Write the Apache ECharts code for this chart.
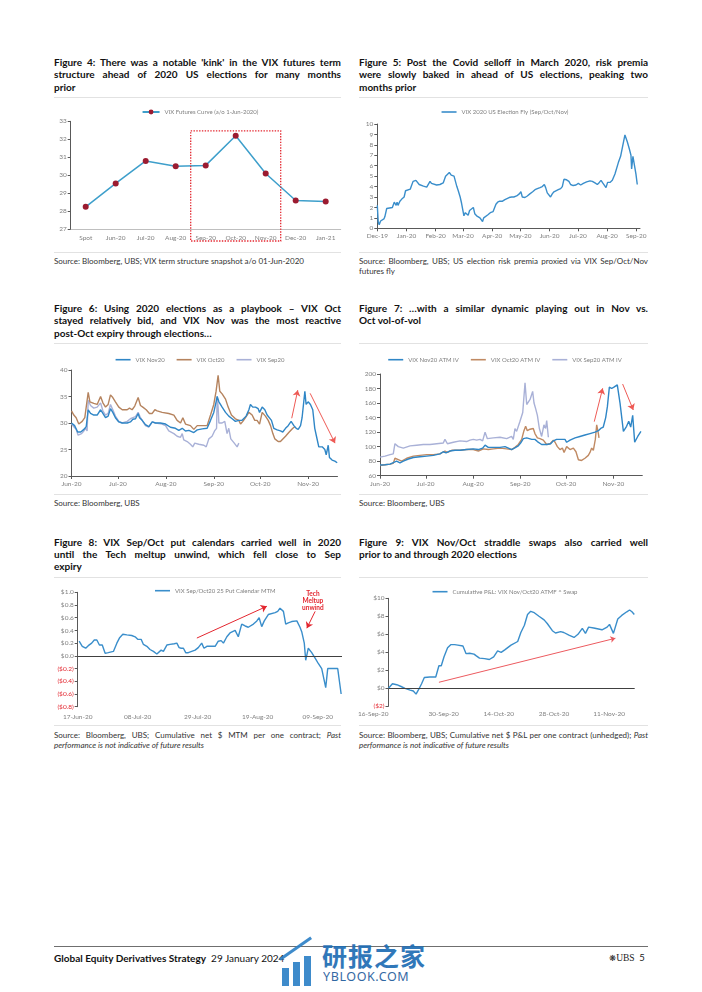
<!DOCTYPE html>
<html><head><meta charset="utf-8">
<script src="https://cdn.jsdelivr.net/npm/echarts@6/dist/echarts.min.js"></script>
<style>
html,body{margin:0;padding:0;background:#fff}
body{width:702px;height:992px;position:relative;overflow:hidden;font-family:Lato,'Noto Sans',sans-serif;color:#111}
.t{position:absolute;font-weight:700;font-size:10px;line-height:12.4px;color:#111}
.ln{white-space:nowrap;text-align:justify;text-align-last:justify}
.ln.l{text-align-last:left}
.sep{position:absolute;height:1px;background:#e2e2e2}
.src{position:absolute;font-size:8px;line-height:10px;color:#333}
.c{position:absolute}
</style></head><body>

<!-- Titles -->
<div class="t" style="left:54px;top:55.8px;width:287px">
<div class="ln"><span>Figure 4: There was a notable 'kink' in the VIX futures term</span></div>
<div class="ln"><span>structure ahead of 2020 US elections for many months</span></div>
<div class="ln l"><span>prior</span></div></div>
<div class="t" style="left:359px;top:55.8px;width:289px">
<div class="ln"><span>Figure 5: Post the Covid selloff in March 2020, risk premia</span></div>
<div class="ln"><span>were slowly baked in ahead of US elections, peaking two</span></div>
<div class="ln l"><span>months prior</span></div></div>
<div class="t" style="left:54px;top:302px;width:287px">
<div class="ln"><span>Figure 6: Using 2020 elections as a playbook – VIX Oct</span></div>
<div class="ln"><span>stayed relatively bid, and VIX Nov was the most reactive</span></div>
<div class="ln l"><span>post-Oct expiry through elections…</span></div></div>
<div class="t" style="left:359px;top:302px;width:289px">
<div class="ln"><span>Figure 7: …with a similar dynamic playing out in Nov vs.</span></div>
<div class="ln l"><span>Oct vol-of-vol</span></div></div>
<div class="t" style="left:54px;top:535.5px;width:287px">
<div class="ln"><span>Figure 8: VIX Sep/Oct put calendars carried well in 2020</span></div>
<div class="ln"><span>until the Tech meltup unwind, which fell close to Sep</span></div>
<div class="ln l"><span>expiry</span></div></div>
<div class="t" style="left:359px;top:535.5px;width:289px">
<div class="ln"><span>Figure 9: VIX Nov/Oct straddle swaps also carried well</span></div>
<div class="ln l"><span>prior to and through 2020 elections</span></div></div>

<!-- separators -->
<div class="sep" style="left:54px;top:96.5px;width:287px"></div>
<div class="sep" style="left:359px;top:96.5px;width:289px"></div>
<div class="sep" style="left:54px;top:251.5px;width:287px"></div>
<div class="sep" style="left:359px;top:251.5px;width:289px"></div>
<div class="sep" style="left:54px;top:343px;width:287px"></div>
<div class="sep" style="left:359px;top:343px;width:289px"></div>
<div class="sep" style="left:54px;top:493.8px;width:287px"></div>
<div class="sep" style="left:359px;top:493.8px;width:289px"></div>
<div class="sep" style="left:54px;top:576.5px;width:287px"></div>
<div class="sep" style="left:359px;top:576.5px;width:289px"></div>
<div class="sep" style="left:54px;top:724.8px;width:287px"></div>
<div class="sep" style="left:359px;top:724.8px;width:289px"></div>

<!-- Sources -->
<div class="src" style="left:54px;top:256px;width:287px">Source: Bloomberg, UBS; VIX term structure snapshot a/o 01-Jun-2020</div>
<div class="src" style="left:359px;top:256px;width:289px"><div class="ln"><span>Source: Bloomberg, UBS; US election risk premia proxied via VIX Sep/Oct/Nov</span></div><div>futures fly</div></div>
<div class="src" style="left:54px;top:498.3px;width:287px">Source: Bloomberg, UBS</div>
<div class="src" style="left:359px;top:498.3px;width:289px">Source: Bloomberg, UBS</div>
<div class="src" style="left:54px;top:730px;width:287px"><div class="ln"><span>Source: Bloomberg, UBS; Cumulative net $ MTM per one contract; <i>Past</i></span></div><div><i>performance is not indicative of future results</i></div></div>
<div class="src" style="left:359px;top:730px;width:289px"><div class="ln"><span>Source: Bloomberg, UBS; Cumulative net $ P&amp;L per one contract (unhedged); <i>Past</i></span></div><div><i>performance is not indicative of future results</i></div></div>

<!-- charts -->
<div id="c4" class="c" style="left:50px;top:100px;width:300px;height:150px"></div>
<div id="c5" class="c" style="left:355px;top:100px;width:300px;height:150px"></div>
<div id="c6" class="c" style="left:50px;top:345px;width:300px;height:148px"></div>
<div id="c7" class="c" style="left:355px;top:345px;width:300px;height:148px"></div>
<div id="c8" class="c" style="left:50px;top:580px;width:300px;height:144px"></div>
<div id="c9" class="c" style="left:355px;top:580px;width:300px;height:144px"></div>

<!-- footer -->
<div style="position:absolute;left:54px;top:946px;width:594px;height:1px;background:#6f6f6f"></div>
<div style="position:absolute;left:54px;top:951.5px;font-size:10px;line-height:13px;white-space:nowrap;color:#111"><b>Global Equity Derivatives Strategy</b>&nbsp;&nbsp;29 January 2024</div>
<div style="position:absolute;left:609px;top:951px;font-size:9.5px;line-height:13px;white-space:nowrap;color:#222;font-family:'Liberation Serif',serif"><span style="font-family:'DejaVu Sans';font-size:8.5px">❋</span>UBS&nbsp;&nbsp;<span style="font-family:Lato">5</span></div>

<!-- watermark -->
<div style="position:absolute;left:280px;top:944px;width:40px;height:44px;opacity:0.9">
  <div style="position:absolute;left:2px;top:24px;width:7px;height:18px;background:#2a7fc6"></div>
  <div style="position:absolute;left:13px;top:18px;width:7px;height:24px;background:#2a7fc6"></div>
  <div style="position:absolute;left:24px;top:12px;width:7px;height:30px;background:#2a7fc6"></div>
  <div style="position:absolute;left:0px;top:14px;width:38px;height:3px;background:#2a7fc6;transform:rotate(-35deg);transform-origin:left center"></div>
</div>
<div style="position:absolute;left:322px;top:941px;font-family:'Noto Sans CJK SC';font-weight:700;font-size:25px;line-height:28px;color:#1f6db4;letter-spacing:1px;opacity:0.92;white-space:nowrap">研报之家</div>
<div style="position:absolute;left:323px;top:969px;font-family:'Noto Sans',sans-serif;font-size:12.5px;line-height:16px;color:#1f5c9c;letter-spacing:0.6px;opacity:0.92;white-space:nowrap">YBLOOK.COM</div>

<script>
// ---------------- DATA ----------------
// Figure 4
const fig4Name = 'VIX Futures Curve (a/o 1-Jun-2020)';
const fig4Categories = ['Spot','Jun-20','Jul-20','Aug-20','Sep-20','Oct-20','Nov-20','Dec-20','Jan-21'];
const fig4Values = [28.25, 29.55, 30.8, 30.5, 30.55, 32.2, 30.1, 28.6, 28.55];
const fig4YTicks = [27, 33, 1];

// Figure 5  ([days since start, value])
const fig5Name = 'VIX 2020 US Election Fly (Sep/Oct/Nov)';
const fig5Start = '2019-12-01';
const fig5TickLabels = ['Dec-19','Jan-20','Feb-20','Mar-20','Apr-20','May-20','Jun-20','Jul-20','Aug-20','Sep-20'];
const fig5Series = [[0,2.2],[1,0.6],[2,0.35],[3.5,0.7],[5,0.65],[7,0.9],[8,1.1],[10,1.9],[13,1.95],[16,2.0],[17,2.1],[18,2.5],[20,2.2],[21,2.5],[22,2.2],[24,2.6],[26,2.8],[27.5,2.9],[28.5,3.0],[30,3.6],[32,3.6],[35,3.75],[36,4.0],[38,4.5],[41,4.6],[43,4.55],[44.5,4.2],[46.5,4.2],[49,4.05],[50.5,4.0],[52.5,3.95],[54,4.1],[56,4.5],[57.5,4.3],[59.5,4.2],[63,4.15],[66.5,4.2],[70,4.35],[71,4.5],[72.5,5.0],[74.5,5.1],[76.5,5.35],[78.5,5.1],[81.5,5.0],[82.5,5.05],[84.5,4.0],[86,3.6],[88,3.0],[89.5,2.4],[92,1.2],[93.5,1.5],[94.5,1.6],[96.5,1.25],[98,1.7],[100,1.8],[102,2.0],[103.5,1.4],[105.5,1.2],[109,1.0],[110.8,0.9],[111.8,0.65],[113,1.0],[115,1.1],[117.5,1.3],[120,1.5],[123,1.6],[126,2.3],[127.8,2.5],[130,2.6],[133,2.6],[135.5,2.75],[137.5,2.8],[140,2.95],[142.7,3.0],[145,3.0],[148,3.1],[150.8,3.3],[152.5,3.5],[154,3.0],[156.8,2.95],[159.3,3.1],[162,3.3],[165,3.5],[167.5,3.7],[170,3.8],[172.8,3.9],[175.2,4.0],[177.4,4.2],[178.8,3.9],[180.5,3.4],[182.3,3.4],[184,3.0],[185.8,3.3],[187.6,3.5],[189.7,3.6],[192.2,3.7],[194.7,3.8],[196.5,4.0],[198.2,4.7],[201,4.65],[203.5,4.5],[205.3,4.2],[208,4.1],[211,4.15],[213.5,4.3],[216,4.15],[218.8,4.3],[222.3,4.45],[225.9,4.55],[228.4,4.5],[231.2,4.35],[233.7,4.2],[235.8,4.4],[237.6,4.6],[239.4,4.35],[241.1,4.3],[242.9,3.9],[244.6,4.4],[247.1,4.4],[249.6,4.6],[252.4,5.2],[256,6.3],[258.4,6.9],[259.5,7.0],[263,8.95],[265.5,8.3],[267.7,7.6],[269.4,7.0],[270.1,5.7],[271.5,6.9],[273.6,6.9],[274.7,5.2],[276.1,4.2]];

// Figure 6
const fig6Names = ['VIX Nov20','VIX Oct20','VIX Sep20'];
const fig6Start = '2020-06-01';
const fig6TickLabels = ['Jun-20','Jul-20','Aug-20','Sep-20','Oct-20','Nov-20'];
const fig6Nov = [[0,30.0],[2,29.5],[4,28.3],[6,28.3],[8,28.8],[9.5,29.3],[10.8,32.5],[12.3,31.8],[14.4,31.5],[16.6,31.5],[18.8,32.5],[20.3,31.8],[22,31.0],[23.7,31.3],[25.2,32.7],[26.7,32.0],[28.4,31.0],[30.6,30.2],[32.8,30.0],[36,30.0],[38.1,30.2],[39.7,30.7],[41.4,30.8],[43.1,31.8],[44,31.0],[45.7,30.5],[47.8,29.7],[50,29.3],[52.2,30.2],[54.3,30.0],[57.5,30.0],[60.8,29.8],[64,29.2],[67.2,29.0],[69.4,28.6],[71.6,29.0],[73.7,28.5],[75.9,28.6],[79.1,28.2],[81.3,28.7],[84.5,28.9],[87.7,29.0],[89.9,30.5],[92,32.0],[93.5,34.0],[94.2,35.0],[95.3,34.0],[97.4,33.0],[99.6,32.0],[101.7,31.3],[103.9,30.8],[106,30.3],[108.2,30.5],[110.3,30.5],[112.9,31.3],[114.7,32.5],[115.7,33.5],[117.2,33.0],[119,33.0],[120.7,32.7],[121.6,32.0],[123.3,33.0],[125,32.5],[126.5,31.5],[127.6,31.5],[129.3,30.5],[130.8,29.0],[133,28.7],[135.1,28.5],[136.6,28.3],[138.4,29.0],[140.1,29.5],[142,30.3],[143.8,29.5],[145.3,29.0],[146.6,28.8],[148.1,29.5],[149.1,31.0],[149.8,31.3],[150.9,36.0],[151.7,33.5],[153,34.0],[154.5,33.5],[156,32.5],[157.3,29.0],[158.4,27.5],[159.9,25.5],[162.1,25.5],[163.8,25.0],[164.7,24.0],[166,25.8],[166.8,23.5],[168.5,23.0],[170.3,22.8],[171.8,22.5]];
const fig6Oct = [[0,32.3],[1.5,31.5],[3,31.0],[4.7,29.8],[6.9,30.3],[8.6,31.0],[9.7,30.8],[10.8,35.8],[11.9,34.0],[14.4,33.7],[16.6,33.5],[18.8,35.0],[20.3,33.8],[22,33.0],[23.7,33.5],[25.2,35.3],[26.7,34.8],[28.4,34.0],[30.6,33.0],[32.8,32.5],[36,32.5],[37.5,32.8],[39.2,32.5],[40.9,33.2],[43.1,34.8],[44.6,33.3],[46.1,33.0],[48.3,32.5],[50.4,31.8],[52.2,31.8],[53.9,32.5],[55.4,32.3],[58.6,32.0],[62.9,31.8],[66.2,31.5],[68.3,30.5],[70.5,30.0],[72,31.0],[73.7,29.8],[76.9,29.5],[79.1,28.8],[81.3,29.5],[84.5,29.5],[87.7,29.5],[89.9,31.5],[92,33.5],[93.5,36.0],[94.8,39.0],[95.9,36.0],[97.4,35.5],[99.6,34.5],[101.3,33.0],[103.4,31.5],[106,30.8],[108.2,30.5],[109.3,29.8],[110.8,30.3],[112.5,31.0],[114.7,32.0],[116.8,31.5],[118.5,30.5],[120,30.5],[121.6,29.8],[123.3,32.0],[125.4,31.3],[127.2,30.5],[128.7,29.5],[130.2,28.0],[131.5,27.0],[133.6,26.5],[135.1,26.5],[138.4,27.5],[140.5,28.2],[143.1,29.0],[144.4,29.3]];
const fig6Sep = [[0,29.8],[1.5,29.3],[3,28.8],[4.3,27.7],[6.5,28.0],[8,28.5],[9.1,29.0],[10.1,28.5],[10.8,34.3],[12.3,33.3],[14.4,32.8],[16.6,33.0],[18.8,33.8],[20.3,32.3],[22,31.5],[23.7,31.8],[25.2,33.5],[26.7,32.5],[28.4,31.3],[30.6,30.3],[32.8,30.0],[36,30.3],[38.1,30.8],[39.7,31.0],[41.4,31.2],[43.1,32.0],[44.6,31.0],[46.1,30.3],[47.8,29.5],[50,29.2],[52.2,30.2],[54.3,30.0],[58.6,29.8],[60.8,29.5],[62.9,28.5],[66.2,28.0],[68.3,27.5],[70.5,27.3],[71.6,28.0],[72.6,26.8],[74.8,26.5],[76.9,26.0],[78.4,25.5],[79.7,26.2],[82.3,26.0],[85.6,25.8],[87.1,25.5],[88.8,27.0],[90.9,27.5],[92.5,28.5],[93.3,28.5],[93.8,29.0],[94.2,35.0],[94.8,33.0],[95.3,30.0],[97.4,30.0],[99.1,30.3],[100.6,28.0],[101.7,29.0],[103,27.0],[105,26.3],[107.1,25.5],[108.2,26.2]];
const fig6Arrows = [[[142.4,30.9],[146.3,36.2]],[[154.3,35.6],[170.4,26.2]]];

// Figure 7
const fig7Names = ['VIX Nov20 ATM IV','VIX Oct20 ATM IV','VIX Sep20 ATM IV'];
const fig7Start = '2020-06-01';
const fig7TickLabels = ['Jun-20','Jul-20','Aug-20','Sep-20','Oct-20','Nov-20'];
const fig7Nov = [[0,74.7],[3.3,75],[6.6,76],[8.7,78],[9.8,80.5],[10.9,80],[13.1,77.5],[15.3,80],[18.6,83],[21.9,85],[26.2,86],[30.6,87],[35,88],[39.3,90],[41.5,93],[43.3,91.5],[45.9,94],[49.2,95],[52.5,95],[56.8,96],[61.2,97],[64.5,96],[67.3,98],[68.9,102],[71,99],[74.3,99],[78.7,99],[82,100],[84.2,98],[86.3,96],[88.1,98],[90.7,101],[92.2,105],[94,111],[96.2,112],[99.5,110],[101.6,110],[103.2,107],[106,103],[109.3,103],[111.9,104],[113.7,108],[115.8,110],[119.1,110],[121.3,110],[122.4,106],[124.6,109],[127.9,112],[131.1,114],[134.4,116],[137.7,118],[141,120],[143.2,122],[144.7,125],[146.4,127],[148,140],[149.1,155],[150.4,182],[151.9,180],[153.4,182],[155.6,185],[157.4,160],[159.6,121],[161.7,128],[163.1,135],[164.4,127],[165.7,143],[167,106],[169,114],[171.1,121]];
const fig7Oct = [[0,74],[3.3,75],[6.6,76],[8.7,77],[9.8,84],[12,82],[14.2,80],[17.5,84],[21.9,87],[26.2,88],[30.6,89],[35,89],[39.3,90],[42.6,94],[44.2,92],[47,95],[52.5,95],[56.8,96],[61.2,96],[64.5,94],[67.8,97],[71,96],[74.3,97],[78.7,98],[83.1,97],[86.3,96],[88.5,99],[90.7,103],[92.9,110],[94.4,122],[95.5,128],[96.6,122],[98.4,124],[100.5,125],[101.6,118],[103.2,112],[104.9,111],[107.1,109],[109.3,103],[111.5,104],[113.7,109],[114.8,106],[116.3,100],[118,96],[119.6,98],[120.7,92],[122.4,100],[124.6,96],[126.8,98],[128.5,93],[130.1,82],[132.2,81],[134.4,84],[136.6,88],[137.7,92],[138.8,98],[139.9,95],[141.2,110],[142.1,130],[143.2,118],[143.6,112]];
const fig7Sep = [[0,85.5],[3.3,87],[6.6,89],[8.7,90],[9.8,104],[12,100],[15.3,98],[19.7,101],[24,102],[28.4,103],[32.8,103],[37.2,104],[41.5,105],[42.6,110],[44.2,104],[48.1,106],[52.5,108],[56.8,107],[59,109],[61.2,110],[63.4,109],[65.6,110],[67.3,108],[68.9,120],[70.4,111],[74.3,112],[78.7,113],[83.1,111],[86.3,114],[87.4,110],[88.5,125],[89.6,121],[91.8,135],[93.6,147],[95.1,188],[96.2,158],[98.4,165],[100.1,176],[101,160],[102.1,152],[103.2,143],[104.5,125],[106,114],[107.5,130],[108.6,125],[109.3,136],[110.4,113]];
const fig7Arrows = [[[140.5,134.4],[146,180.3]],[[159.1,186.2],[166.1,150.4]]];

// Figure 8
const fig8Name = 'VIX Sep/Oct20 25 Put Calendar MTM';
const fig8Start = '2020-06-17';
const fig8TickLabels = ['17-Jun-20','08-Jul-20','29-Jul-20','19-Aug-20','09-Sep-20'];
const fig8Series = [[0.5,0.23],[1.6,0.15],[2.8,0.12],[3.7,0.16],[4.9,0.2],[5.8,0.25],[6.7,0.25],[7.6,0.17],[8.6,0.17],[9.6,0.04],[10.7,0.05],[12.5,0.07],[13.7,0.2],[14.6,0.28],[15.8,0.34],[17.2,0.33],[18.9,0.32],[20.1,0.3],[21,0.26],[22.2,0.26],[23,0.18],[24.2,0.15],[25.3,0.1],[26.5,0.07],[27.7,0.03],[28.2,0.02],[29.2,0.09],[30,0.07],[31.2,0.17],[32.3,0.18],[33.8,0.19],[34.7,0.2],[35.5,0.13],[36.2,0.12],[37,0.12],[37.8,0.05],[38.7,0.05],[39.9,0.07],[41.1,0.09],[42.2,0.13],[43.4,0.2],[44.2,0.12],[45.2,0.15],[46.9,0.15],[48.1,0.15],[49.2,0.23],[50.2,0.24],[51,0.2],[52.2,0.3],[53.3,0.36],[55.1,0.4],[56.2,0.3],[57.4,0.5],[58.6,0.47],[59.7,0.45],[61.5,0.5],[62.7,0.55],[63.5,0.6],[64.4,0.46],[65.3,0.55],[66.7,0.65],[69.1,0.68],[70,0.7],[70.8,0.75],[72,0.7],[72.8,0.5],[73.7,0.52],[74.9,0.54],[76.7,0.55],[77.8,0.45],[78.4,0.38],[79,0.35],[79.3,0.2],[79.8,-0.07],[80.7,0.12],[81.9,0.05],[83.3,-0.05],[84.2,-0.12],[85.4,-0.2],[86,-0.2],[86.8,-0.5],[87.5,-0.2],[88.9,-0.2],[91,-0.2],[92.2,-0.6]];
const fig8Arrows = [[[41.7,0.28],[66.2,0.78]],[[83.1,0.70],[80.2,0.435]]];
const fig8Note = {text:'Tech\nMeltup\nunwind', at:[82.3,0.87]};

// Figure 9
const fig9Name = 'Cumulative P&L: VIX Nov/Oct20 ATMF ^ Swap';
const fig9Start = '2020-09-16';
const fig9TickLabels = ['16-Sep-20','30-Sep-20','14-Oct-20','28-Oct-20','11-Nov-20'];
const fig9Series = [[0,0.0],[1,0.5],[2.1,0.4],[3.2,0.2],[4.2,0.0],[5.5,-0.2],[6.3,-0.3],[7,-0.65],[7.7,-0.1],[8.4,0.5],[9.1,1.2],[10.5,1.25],[12,1.25],[12.8,2.5],[13.4,2.5],[14.1,3.5],[15,4.5],[15.8,4.85],[16.8,4.85],[17.6,4.8],[18.9,4.7],[19.7,3.85],[20.6,3.9],[21.7,3.8],[22.3,3.6],[23.1,3.35],[24.4,3.3],[25.6,3.2],[26.7,3.5],[27.7,4.15],[28.6,4.0],[29.6,4.3],[31.1,4.8],[32.8,5.2],[33.6,6.2],[34.5,7.0],[35.3,8.2],[36.1,8.55],[37,8.4],[38.2,8.0],[39.5,7.6],[40.3,7.2],[41.6,6.4],[42.4,6.15],[43.7,6.3],[44.5,6.2],[45.8,5.9],[47.1,5.65],[48.1,6.0],[49.2,6.65],[50,6.1],[50.8,6.8],[52.1,6.7],[54.2,6.5],[55.5,6.8],[56.1,7.1],[57.1,6.1],[58.2,7.7],[59.2,8.1],[60.5,8.5],[61.2,8.7],[61.8,8.5],[62.4,8.2]];
const fig9Arrows = [[[12.8,0.67],[57.6,5.56]]];

// ---------------- HELPERS ----------------
const FONT = 'Lato';
const AXC = '#595959', LBL = '#808080', RED = '#e3262f';
const MONTHS = ['Jan','Feb','Mar','Apr','May','Jun','Jul','Aug','Sep','Oct','Nov','Dec'];
function isoUTC(s){ const p = s.split('-'); return Date.UTC(+p[0], +p[1]-1, +p[2]); }
function labelUTC(l){ const p = l.split('-'); if (p.length === 2) return Date.UTC(2000 + +p[1], MONTHS.indexOf(p[0]), 1); return Date.UTC(2000 + +p[2], MONTHS.indexOf(p[1]), +p[0]); }
function offsets(labels, start){ const s = isoUTC(start); return labels.map(l => Math.round((labelUTC(l) - s) / 864e5)); }

function yAx(min, max, interval, extra){
  return Object.assign({type:'value', min, max, interval,
    axisLine:{show:true, lineStyle:{color:AXC, width:1}},
    axisTick:{show:true, length:3, lineStyle:{color:AXC}},
    splitLine:{show:false},
    axisLabel:{color:LBL, fontSize:6.5, fontFamily:FONT, margin:4}}, extra || {});
}
function xAx(labels, start, max, opt){
  opt = opt || {};
  const offs = offsets(labels, start);
  return {type:'value', min:0, max,
    axisLine:{show:opt.line !== false, onZero:false, lineStyle:{color:AXC, width:1}},
    axisTick:{show:opt.ticks !== false, customValues:offs, length:3, lineStyle:{color:AXC}},
    splitLine:{show:false},
    axisLabel:Object.assign({customValues:offs, color:LBL, fontSize:6.5, fontFamily:FONT, margin:opt.margin || 4.5, showMinLabel:true, showMaxLabel:true,
      formatter: v => { const i = offs.findIndex(o => Math.abs(o - v) < 0.01); return i >= 0 ? labels[i] : ''; }}, opt.label || {})};
}
function legendOpt(top, extra){
  return Object.assign({top, left:'center', padding:0, itemGap:12, itemWidth:15, itemHeight:1.6, icon:'rect',
    textStyle:{fontSize:6, color:LBL, fontFamily:FONT}}, extra || {});
}
function lineSer(name, data, color, extra){
  return Object.assign({name, type:'line', data, symbol:'none', showSymbol:false, lineStyle:{color, width:1.4}, itemStyle:{color}, silent:true}, extra || {});
}
function arrowML(arrows){
  return arrows.map(a => [{coord:a[0]}, {coord:a[1]}]);
}
function mlArrows(arrows, color, size){
  return {silent:true, animation:false, symbol:['none','arrow'], symbolSize:size, label:{show:false}, emphasis:{disabled:true},
    lineStyle:{color, width:1, type:'solid'}, data:arrowML(arrows)};
}
function zeroLineSeries(){
  return {name:'_zero', type:'line', data:[], silent:true, z:1,
    markLine:{silent:true, animation:false, symbol:'none', label:{show:false}, emphasis:{disabled:true},
      lineStyle:{color:'#404040', width:1, type:'solid'}, data:[{yAxis:0}]}};
}

// ---------------- FIGURE 4 ----------------
const c4 = echarts.init(document.getElementById('c4'));
c4.setOption({animation:false, textStyle:{fontFamily:FONT},
  legend:{top:9, left:'center', padding:0, itemWidth:17, itemHeight:6, data:[fig4Name], textStyle:{fontSize:6, color:LBL, fontFamily:FONT}},
  grid:{left:20.7, top:21.3, width:270, height:108},
  xAxis:{type:'category', data:fig4Categories, boundaryGap:true,
    axisLine:{lineStyle:{color:'#bfbfbf'}}, axisTick:{show:false},
    axisLabel:{interval:0, color:LBL, fontSize:6.5, fontFamily:FONT, margin:5}},
  yAxis:yAx(fig4YTicks[0], fig4YTicks[1], fig4YTicks[2]),
  series:[{name:fig4Name, type:'line', data:fig4Values, symbol:'circle', symbolSize:6,
    itemStyle:{color:'#9b1b30'}, lineStyle:{color:'#3e9fcb', width:1.5}}]
});
(function(){
  const a = c4.convertToPixel({gridIndex:0}, ['Sep-20', 32.47]);
  const b = c4.convertToPixel({gridIndex:0}, ['Nov-20', 26.35]);
  const o = c4.convertToPixel({gridIndex:0}, ['Oct-20', 30]);
  const half = (o[0] - a[0]) / 2;
  c4.setOption({graphic:[{type:'rect', silent:true, z:100,
    shape:{x:a[0]-half, y:a[1], width:b[0]-a[0]+2*half, height:b[1]-a[1]},
    style:{fill:'none', stroke:RED, lineWidth:1.3, lineDash:[1.4,1.4]}}]});
})();

// ---------------- FIGURE 5 ----------------
const c5 = echarts.init(document.getElementById('c5'));
c5.setOption({animation:false, textStyle:{fontFamily:FONT},
  legend:legendOpt(9, {data:[fig5Name]}),
  grid:{left:22.3, top:24, width:262.7, height:104.3},
  xAxis:xAx(fig5TickLabels, fig5Start, 279),
  yAxis:yAx(0, 10, 1),
  series:[lineSer(fig5Name, fig5Series, '#3a8ecb')]
});

// ---------------- FIGURE 6 ----------------
const c6 = echarts.init(document.getElementById('c6'));
c6.setOption({animation:false, textStyle:{fontFamily:FONT},
  legend:legendOpt(11.7, {data:fig6Names}),
  grid:{left:21.5, top:25, width:266, height:106},
  xAxis:xAx(fig6TickLabels, fig6Start, 172),
  yAxis:yAx(20, 40, 5),
  series:[
    lineSer(fig6Names[2], fig6Sep, '#a9b1d7'),
    lineSer(fig6Names[1], fig6Oct, '#b5835e'),
    lineSer(fig6Names[0], fig6Nov, '#2f86c6', {markLine:mlArrows(fig6Arrows, '#ee5a55', 6)})
  ]
});

// ---------------- FIGURE 7 ----------------
const c7 = echarts.init(document.getElementById('c7'));
c7.setOption({animation:false, textStyle:{fontFamily:FONT},
  legend:legendOpt(11.7, {data:fig7Names}),
  grid:{left:25, top:29, width:262.3, height:101.7},
  xAxis:xAx(fig7TickLabels, fig7Start, 172),
  yAxis:yAx(60, 200, 20),
  series:[
    lineSer(fig7Names[2], fig7Sep, '#a9b1d7'),
    lineSer(fig7Names[1], fig7Oct, '#c08a63'),
    lineSer(fig7Names[0], fig7Nov, '#2f86c6', {markLine:mlArrows(fig7Arrows, '#ee5a55', 6)})
  ]
});

// ---------------- FIGURE 8 ----------------
const c8 = echarts.init(document.getElementById('c8'));
c8.setOption({animation:false, textStyle:{fontFamily:FONT},
  legend:legendOpt(7.7, {data:[fig8Name], left:105}),
  grid:{left:27.7, top:12.3, width:264.3, height:114.4},
  xAxis:xAx(fig8TickLabels, fig8Start, 92.5, {line:false, ticks:false, margin:6.5}),
  yAxis:yAx(-0.8, 1.0, 0.2, {axisLabel:{fontSize:6.5, fontFamily:FONT, margin:4, color:LBL,
    formatter: v => v < -1e-9 ? '{n|($' + (-v).toFixed(1) + ')}' : '$' + Math.abs(v).toFixed(1),
    rich:{n:{color:RED, fontSize:6.5, fontFamily:FONT}}}}),
  series:[zeroLineSeries(), lineSer(fig8Name, fig8Series, '#3a8ecb', {z:3, markLine:mlArrows(fig8Arrows, RED, 6)})]
});
(function(){
  const p = c8.convertToPixel({gridIndex:0}, fig8Note.at);
  c8.setOption({graphic:[{type:'text', silent:true, z:100, x:p[0], y:p[1],
    style:{text:fig8Note.text, fill:RED, fontSize:6.5, fontWeight:'bold', fontFamily:FONT, align:'center', verticalAlign:'middle', lineHeight:7}}]});
})();

// ---------------- FIGURE 9 ----------------
const c9 = echarts.init(document.getElementById('c9'));
c9.setOption({animation:false, textStyle:{fontFamily:FONT},
  legend:legendOpt(8.7, {data:[fig9Name]}),
  grid:{left:31.7, top:18.3, width:248, height:108},
  xAxis:xAx(fig9TickLabels, fig9Start, 62.5, {line:false, ticks:false, margin:4.5, label:{alignMinLabel:'right'}}),
  yAxis:yAx(-2, 10, 2, {axisLabel:{fontSize:6.5, fontFamily:FONT, margin:4, color:LBL,
    formatter: v => v < 0 ? '{n|($' + (-v) + ')}' : '$' + v,
    rich:{n:{color:RED, fontSize:6.5, fontFamily:FONT}}}}),
  series:[zeroLineSeries(), lineSer(fig9Name, fig9Series, '#3a8ecb', {z:3, markLine:mlArrows(fig9Arrows, '#ec5a5f', 5)})]
});

// ---------- fit justified title lines ----------
document.querySelectorAll('.ln').forEach(d => {
  const sp = d.firstElementChild; if (!sp) return;
  const w = sp.getBoundingClientRect().width, W = d.clientWidth;
  if (w > W + 0.3) d.style.letterSpacing = (-(w - W + 0.5) / sp.textContent.length) + 'px';
});
</script>
</body></html>
